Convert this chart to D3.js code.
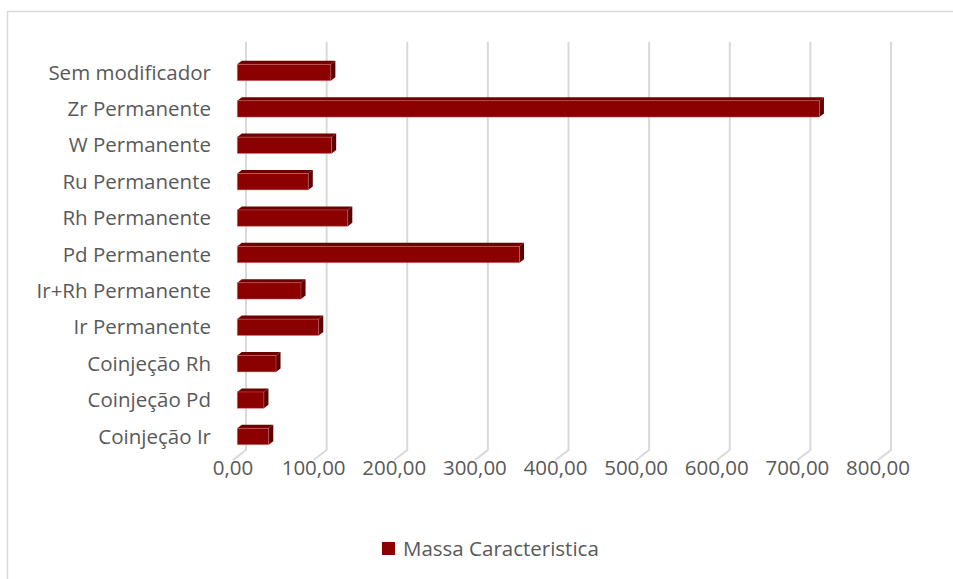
<!DOCTYPE html>
<html>
<head>
<meta charset="utf-8">
<script src="https://cdn.jsdelivr.net/npm/d3@7"></script>
<style>
  html, body { margin: 0; padding: 0; background: #fff; }
  svg { display: block; font-family: "Open Sans", sans-serif; }
</style>
</head>
<body>
<svg id="chart" width="953" height="579"></svg>
<script>
// Categories, top to bottom
const categories = [
  "Sem modificador", "Zr Permanente", "W Permanente", "Ru Permanente",
  "Rh Permanente", "Pd Permanente ", "Ir+Rh Permanente", "Ir Permanente",
  "Coinjeção Rh", "Coinjeção Pd", "Coinjeção Ir"
];
const seriesName = "Massa Caracteristica";
const massaValues = [116, 722, 117, 88, 137, 350, 79, 101, 48, 33, 39];
const tickValues = [0, 100, 200, 300, 400, 500, 600, 700, 800];
const tickLabels = ["0,00", "100,00", "200,00", "300,00", "400,00", "500,00", "600,00", "700,00", "800,00"];

const svg = d3.select("#chart");
const textColor = "#595959";
const gridColor = "#d9d9d9";
const fontSize = 20.5;

// Oblique 3D offset for full depth (d = 0 front, d = 1 back)
const DX = 13, DY = -10;
const floorY = 460;      // front edge of floor
const wallTop = 42;      // top of back wall
const barD0 = 0.33, barD1 = 0.68;

const x = d3.scaleLinear().domain([0, 800]).range([233, 878]);
const y = d3.scaleBand().domain(categories)
  .range([54.3 + barD0 * -DY, 454.7 + barD0 * -DY])
  .paddingInner(0.55).paddingOuter(0.275);

// Chart area border
svg.append("rect")
  .attr("x", 7.5).attr("y", 11.5).attr("width", 980).attr("height", 600)
  .attr("fill", "none").attr("stroke", gridColor).attr("stroke-width", 1.5);

// Back wall gridlines with floor segment
const grid = svg.append("g");
tickValues.forEach(v => {
  const xb = x(v) + DX, yb = floorY + DY;
  grid.append("path")
    .attr("d", `M${xb},${wallTop}L${xb},${yb}L${x(v)},${floorY}`)
    .attr("fill", "none").attr("stroke", gridColor).attr("stroke-width", 2);
});

// Bars: front, top and side faces
const bars = svg.append("g");
categories.forEach((c, i) => {
  const v = massaValues[i];
  const x0 = x(0) + barD0 * DX, x1 = x(v) + barD0 * DX;
  const yt = y(c) + barD0 * DY, yb = yt + y.bandwidth();
  const ox = (barD1 - barD0) * DX, oy = (barD1 - barD0) * DY;
  bars.append("path")
    .attr("d", `M${x0},${yt}L${x0 + ox},${yt + oy}L${x1 + ox},${yt + oy}L${x1},${yt}Z`)
    .attr("fill", "#6e0000");
  bars.append("path")
    .attr("d", `M${x1},${yt}L${x1 + ox},${yt + oy}L${x1 + ox},${yb + oy}L${x1},${yb}Z`)
    .attr("fill", "#5c0000");
  bars.append("rect")
    .attr("x", x0).attr("y", yt).attr("width", x1 - x0).attr("height", yb - yt)
    .attr("fill", "#8b0000").attr("stroke", "rgba(220,120,120,0.55)").attr("stroke-width", 0.8);
});

// Category labels
svg.append("g").selectAll("text").data(categories).join("text")
  .attr("x", 211)
  .attr("y", d => y(d) + barD0 * DY + y.bandwidth() / 2)
  .attr("dy", "0.35em")
  .attr("text-anchor", "end")
  .attr("fill", textColor).attr("font-size", fontSize)
  .text(d => d);

// Value axis labels
svg.append("g").selectAll("text").data(tickValues).join("text")
  .attr("x", d => x(d))
  .attr("y", 474.5)
  .attr("text-anchor", "middle")
  .attr("fill", textColor).attr("font-size", fontSize)
  .text((d, i) => tickLabels[i]);

// Legend
const legend = svg.append("g");
legend.append("rect").attr("x", 382).attr("y", 542).attr("width", 13).attr("height", 13).attr("fill", "#8b0000");
legend.append("text").attr("x", 403).attr("y", 555.5)
  .attr("fill", textColor).attr("font-size", fontSize).text(seriesName);
</script>
</body>
</html>
